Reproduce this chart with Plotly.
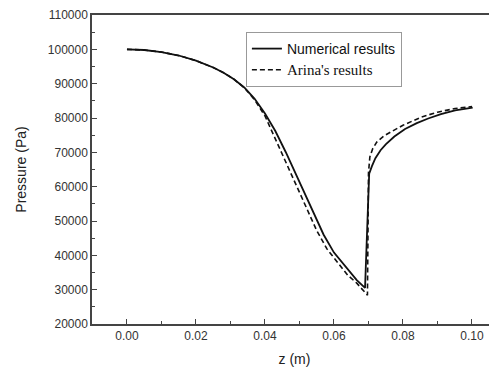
import plotly.graph_objects as go

# Numerical results (solid)
num_z = [0.000, 0.005, 0.010, 0.015, 0.020, 0.025, 0.028, 0.031, 0.034, 0.037,
         0.040, 0.043, 0.046, 0.049, 0.052, 0.055, 0.057, 0.060, 0.0637, 0.0666,
         0.0690, 0.0700, 0.0702, 0.0710, 0.0720, 0.0735, 0.0750, 0.0775, 0.0806,
         0.0840, 0.0873, 0.0910, 0.0951, 0.1002]
num_p = [100000, 99800, 99200, 98200, 96700, 94700, 93200, 91300, 88900, 85600,
         81300, 76200, 70100, 63400, 57000, 50400, 46000, 40800, 36300, 32800,
         30500, 60000, 63800, 66000, 68300, 70600, 72300, 74600, 76800,
         78500, 79850, 81100, 82250, 83050]

# Arina's results (dashed)
ari_z = [0.000, 0.005, 0.010, 0.015, 0.020, 0.025, 0.028, 0.031, 0.034, 0.037,
         0.040, 0.043, 0.046, 0.049, 0.052, 0.055, 0.058, 0.061, 0.064, 0.0666,
         0.0697, 0.0700, 0.0704, 0.0712, 0.0724, 0.0745, 0.0767, 0.0800, 0.0854,
         0.0900, 0.0951, 0.1000]
ari_p = [100000, 99800, 99200, 98200, 96700, 94700, 93200, 91300, 88800, 85300,
         80600, 74000, 67300, 60400, 54000, 47200, 41800, 38000, 34200, 31900,
         28400, 64000, 68700, 71000, 73000, 74800, 76000, 77900, 80300,
         81700, 82750, 83350]

x_ticks = [0.00, 0.02, 0.04, 0.06, 0.08, 0.10]
x_tick_labels = ["0.00", "0.02", "0.04", "0.06", "0.08", "0.10"]
y_ticks = [20000, 30000, 40000, 50000, 60000, 70000, 80000, 90000, 100000, 110000]
y_tick_labels = ["20000", "30000", "40000", "50000", "60000", "70000", "80000",
                 "90000", "100000", "110000"]

fig = go.Figure()
fig.add_trace(go.Scatter(
    x=num_z, y=num_p, mode="lines", name="Numerical results",
    line=dict(color="#111111", width=1.8),
))
fig.add_trace(go.Scatter(
    x=ari_z, y=ari_p, mode="lines",
    name='<span style="font-family:Liberation Serif, Times New Roman, serif;font-size:15px">Arina\'s results</span>',
    line=dict(color="#111111", width=1.6, dash="5px,3px"),
))

axis_common = dict(
    showgrid=False, zeroline=False, showline=True, linecolor="#444444", linewidth=1.5,
    ticks="inside", ticklen=5, tickwidth=1.2, tickcolor="#444444",
    tickfont=dict(family="Liberation Sans, Arial", size=12, color="#333333"),
)

# page body has an 8px default margin: figure is offset by 8px right/down
fig.update_layout(
    width=489, height=361,
    margin=dict(l=84, r=0, t=7, b=45),
    paper_bgcolor="white", plot_bgcolor="white",
    showlegend=True,
    legend=dict(
        x=0.38, y=0.945, xanchor="left", yanchor="top",
        bordercolor="#999999", borderwidth=1, bgcolor="white",
        font=dict(family="Liberation Sans, Arial", size=14, color="#111111"),
        tracegroupgap=0,
    ),
    xaxis=dict(
        **axis_common,
        range=[-0.01014, 0.10725],
        tickvals=x_ticks, ticktext=x_tick_labels,
        mirror=True,
        minor=dict(dtick=0.01, tick0=0, ticks="inside", ticklen=3, tickcolor="#444444", tickwidth=1),
        title=dict(text="z (m)", font=dict(family="Liberation Sans, Arial", size=14, color="#222222"), standoff=12),
    ),
    yaxis=dict(
        **axis_common,
        range=[20000, 110000],
        tickvals=y_ticks, ticktext=y_tick_labels,
        minor=dict(dtick=5000, tick0=0, ticks="inside", ticklen=3, tickcolor="#444444", tickwidth=1),
        title=dict(text="Pressure (Pa)", font=dict(family="Liberation Sans, Arial", size=14, color="#222222"), standoff=18),
    ),
)

fig.write_html("out.html")
